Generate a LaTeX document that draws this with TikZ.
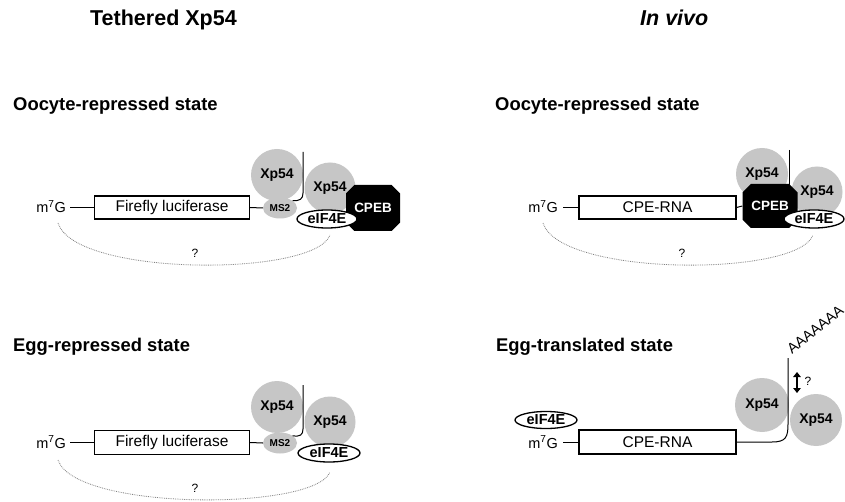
\documentclass[tikz,border=0pt]{standalone}
\usepackage{fontspec}
\setmainfont{Liberation Sans}
\usetikzlibrary{shapes.misc,shapes.geometric,arrows.meta}
\definecolor{xgrey}{RGB}{198,198,198}
\definecolor{arcgrey}{RGB}{130,130,130}
\tikzset{
 protein/.style={circle, fill=xgrey, inner sep=0pt, minimum size=52pt, font=\bfseries\fontsize{14}{14}\selectfont},
 msnode/.style={ellipse, fill=xgrey, inner sep=0pt, minimum width=34pt, minimum height=21pt, font=\bfseries\fontsize{10}{10}\selectfont},
 eif/.style={ellipse, draw, line width=1.3pt, fill=white, inner sep=0pt, minimum width=60pt, minimum height=18pt, font=\bfseries\fontsize{14.5}{14.5}\selectfont},
 cpeb/.style={chamfered rectangle, chamfered rectangle xsep=13pt, fill=black, text=white, inner sep=0pt, minimum width=54pt, minimum height=46pt, font=\bfseries\fontsize{13.5}{13.5}\selectfont},
 rnabox/.style={rectangle, draw, line width=1.1pt, minimum width=155pt, minimum height=23pt, inner sep=0pt, font=\fontsize{15.5}{15.5}\selectfont},
 capnode/.style={inner sep=0pt, anchor=base east, font=\fontsize{14.5}{14.5}\selectfont},
 heading/.style={inner sep=0pt, anchor=base west, font=\bfseries\fontsize{18.4}{18.4}\selectfont},
 titlenode/.style={inner sep=0pt, anchor=base west, font=\bfseries\fontsize{21.5}{21.5}\selectfont},
 strand/.style={line width=1pt},
 loopline/.style={arcgrey, densely dotted, line width=0.8pt},
 qmark/.style={inner sep=0pt, font=\fontsize{12}{12}\selectfont},
}
\begin{document}
\begin{tikzpicture}[x=1pt,y=-1pt]
\useasboundingbox (0,0) rectangle (845,502);
\fill[white] (0,0) rectangle (845,502);

% titles and headings
\node[titlenode] (t1) at (90,26) {Tethered Xp54};
\node[titlenode] (t2) at (640,26) {\itshape In vivo};
\node[heading] (h1) at (13,111) {Oocyte-repressed state};
\node[heading] (h2) at (495,111) {Oocyte-repressed state};
\node[heading] (h3) at (13,351) {Egg-repressed state};
\node[heading] (h4) at (496,351) {Egg-translated state};

% ---------- Panel A: tethered, oocyte ----------
\node[capnode] (mA) at (66,213) {m\textsuperscript{7}G};
\node[rnabox] (bA) at (172,207.5) {Firefly luciferase};
\draw[strand] ([xshift=4pt]mA.east |- bA.west) -- (bA.west);
\node[protein] (xA1) at (277,175) {Xp54};
\node[protein, minimum size=51pt] (xA2) at (330,188) {Xp54};
\node[cpeb] (cA) at (373,208) {CPEB};
\node[msnode] (sA) at (280,208) {MS2};
\draw[strand] (bA.east) -- (sA.west);
\coordinate (tA) at (303,152);
\draw[strand] (tA) -- (303,193) .. controls (303,199) and (300,201) .. (sA.30);
\node[eif] (eA) at (327,219) {eIF4E};
\coordinate (lA1) at (58,223);
\coordinate (lA2) at (330,235);
\draw[loopline] (lA1) .. controls (75,277) and (315,277) .. (lA2);
\node[qmark] (qA) at (195,253) {?};

% ---------- Panel B: in vivo, oocyte ----------
\node[capnode] (mB) at (558,213) {m\textsuperscript{7}G};
\node[rnabox, minimum width=157pt] (bB) at (657.5,207.5) {CPE-RNA};
\draw[strand] ([xshift=5pt]mB.east |- bB.west) -- (bB.west);
\node[protein] (xB1) at (762,174) {Xp54};
\coordinate (tB) at (789,150);
\draw[strand] (tB) -- (789,192);
\node[protein, minimum size=51pt] (xB2) at (817,192) {Xp54};
\node[cpeb, minimum width=55pt, minimum height=44pt] (cB) at (770,206) {CPEB};
\draw[strand] (bB.east) -- (cB.west);
\node[eif] (eB) at (814,219) {eIF4E};
\coordinate (lB1) at (543,223);
\coordinate (lB2) at (813,235);
\draw[loopline] (lB1) .. controls (560,277) and (798,277) .. (lB2);
\node[qmark] (qB) at (682,253) {?};

% ---------- Panel C: tethered, egg ----------
\node[capnode] (mC) at (66,448) {m\textsuperscript{7}G};
\node[rnabox, minimum height=24pt] (bC) at (172,442.5) {Firefly luciferase};
\draw[strand] ([xshift=4pt]mC.east |- bC.west) -- (bC.west);
\node[protein] (xC1) at (277,407) {Xp54};
\node[protein, minimum size=51pt] (xC2) at (330,422) {Xp54};
\node[msnode] (sC) at (280,443) {MS2};
\draw[strand] (bC.east) -- (sC.west);
\coordinate (tC) at (303,385);
\draw[strand] (tC) -- (303,429) .. controls (303,435) and (300,437) .. (sC.30);
\node[eif, minimum width=62pt] (eC) at (329,453) {eIF4E};
\coordinate (lC1) at (58,460);
\coordinate (lC2) at (330,472);
\draw[loopline] (lC1) .. controls (75,511) and (315,511) .. (lC2);
\node[qmark] (qC) at (195,488) {?};

% ---------- Panel D: in vivo, egg ----------
\node[eif, minimum width=62pt, minimum height=17pt] (eD) at (546,420) {eIF4E};
\node[capnode] (mD) at (558,448) {m\textsuperscript{7}G};
\node[rnabox, minimum width=157pt, minimum height=24pt] (bD) at (657.5,442) {CPE-RNA};
\draw[strand] ([xshift=5pt]mD.east |- bD.west) -- (bD.west);
\node[protein, minimum size=54pt] (xD1) at (762,405) {Xp54};
\node[protein] (xD2) at (816,420) {Xp54};
\coordinate (tD) at (788,358);
\draw[strand] (bD.east) -- (772,442) .. controls (786,442) and (788,437) .. (788,424) -- (tD);
\node[inner sep=0pt, anchor=south west, rotate=39, font=\fontsize{14.5}{14.5}\selectfont] (pA) at (792,355) {AAAAAAA};
\coordinate (aD1) at (797,372);
\coordinate (aD2) at (797,393);
\draw[line width=2.6pt, {Triangle[width=7.5pt,length=5pt]}-{Triangle[width=7.5pt,length=5pt]}] (aD1) -- (aD2);
\node[qmark] (qD) at (808,381) {?};
\end{tikzpicture}
\end{document}
